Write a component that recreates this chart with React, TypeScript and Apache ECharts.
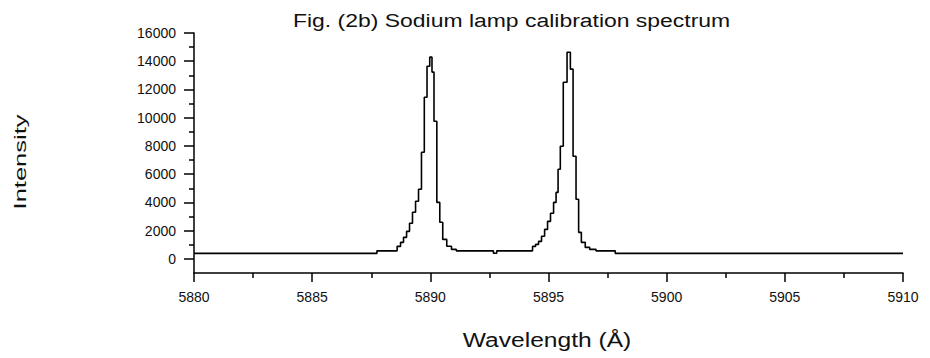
import React, { useEffect, useRef } from "react";
import * as echarts from "echarts";

const titleText = "Fig. (2b) Sodium lamp calibration spectrum";
const xName = "Wavelength (Å)";
const yName = "Intensity";

const wavelengths = [
  5880.0, 5887.6, 5887.88,
  5888.51, 5888.68, 5888.8, 5888.93, 5889.06, 5889.18, 5889.31, 5889.44, 5889.56, 5889.69, 5889.8, 5889.92, 5890.03,
  5890.11, 5890.2, 5890.35, 5890.45, 5890.6, 5890.79, 5891.0, 5891.2,
  5892.6, 5892.74, 5892.88,
  5894.26, 5894.39, 5894.52, 5894.64, 5894.77, 5894.9, 5895.02, 5895.15, 5895.28, 5895.36, 5895.45, 5895.55, 5895.7, 5895.87,
  5895.98, 5896.1, 5896.23, 5896.32, 5896.46, 5896.65, 5896.84, 5897.18,
  5897.7, 5897.95, 5910.0,
];

const intensities = [
  390, 390, 570,
  570, 886, 1170, 1524, 1950, 2520, 3300, 4080, 4930, 7550, 11450, 13640, 14290,
  13230, 9750, 4000, 2590, 1380, 890, 670, 570,
  570, 400, 570,
  570, 886, 1030, 1240, 1600, 2090, 2660, 3230, 4000, 4710, 6350, 7980, 12510, 14640,
  13440, 7270, 4220, 1880, 1170, 815, 670, 570,
  570, 390, 390,
];

const yMajorTicks = [0, 2000, 4000, 6000, 8000, 10000, 12000, 14000, 16000];
const yMinorTicks = [1000, 3000, 5000, 7000, 9000, 11000, 13000, 15000];

export default function App() {
  const ref = useRef<HTMLDivElement>(null);
  useEffect(() => {
    if (!ref.current) return;
    const chart = echarts.init(ref.current, null, { renderer: "svg" });
    const font = '"Liberation Sans", Arial, sans-serif';
    const ink = "#111";
    chart.setOption({
      animation: false,
      backgroundColor: "#fff",
      grid: { left: 194, right: 27, top: 33, bottom: 85 },
      xAxis: {
        type: "value",
        min: 5880,
        max: 5910,
        interval: 5,
        axisLine: { show: true, onZero: false, lineStyle: { color: "#000", width: 1.5 } },
        axisTick: { show: true, length: 9, lineStyle: { color: "#000", width: 1.5 } },
        minorTick: { show: true, splitNumber: 2, length: 5, lineStyle: { color: "#000", width: 1.5 } },
        splitLine: { show: false },
        axisLabel: {
          margin: 17,
          fontSize: 14,
          fontFamily: font,
          color: ink,
          formatter: (v: number) => String(v),
        },
      },
      yAxis: [
        {
          type: "value",
          min: -1000,
          max: 16000,
          interval: 1000,
          position: "left",
          axisLine: { show: true, onZero: false, lineStyle: { color: "#000", width: 1.5 } },
          axisTick: { show: true, length: 10, customValues: yMajorTicks, lineStyle: { color: "#000", width: 1.5 } },
          splitLine: { show: false },
          axisLabel: {
            margin: 18,
            fontSize: 14,
            fontFamily: font,
            color: ink,
            customValues: yMajorTicks,
            formatter: (v: number) => String(v),
          },
        },
        {
          type: "value",
          min: -1000,
          max: 16000,
          interval: 1000,
          position: "left",
          axisLine: { show: false },
          axisTick: { show: true, length: 5, customValues: yMinorTicks, lineStyle: { color: "#000", width: 1.5 } },
          splitLine: { show: false },
          axisLabel: { show: false },
        },
      ],
      series: [
        {
          type: "line",
          yAxisIndex: 0,
          step: "middle",
          symbol: "none",
          data: wavelengths.map((w, i) => [w, intensities[i]]),
          lineStyle: { color: "#000", width: 1.6 },
        },
      ],
      graphic: [
        {
          type: "text",
          x: 293,
          y: 20,
          scaleX: 1.275,
          style: { text: titleText, fontSize: 18, fontFamily: font, fill: ink, align: "left", verticalAlign: "middle" },
        },
        {
          type: "text",
          x: 547,
          y: 340,
          scaleX: 1.23,
          style: { text: xName, fontSize: 20, fontFamily: font, fill: ink, align: "center", verticalAlign: "middle" },
        },
        {
          type: "text",
          x: 20,
          y: 162,
          rotation: Math.PI / 2,
          scaleX: 1.5,
          style: { text: yName, fontSize: 17, fontFamily: font, fill: ink, align: "center", verticalAlign: "middle" },
        },
      ],
    });
    return () => chart.dispose();
  }, []);
  return <div ref={ref} style={{ position: "absolute", left: 0, top: 0, width: 930, height: 358 }} />;
}
